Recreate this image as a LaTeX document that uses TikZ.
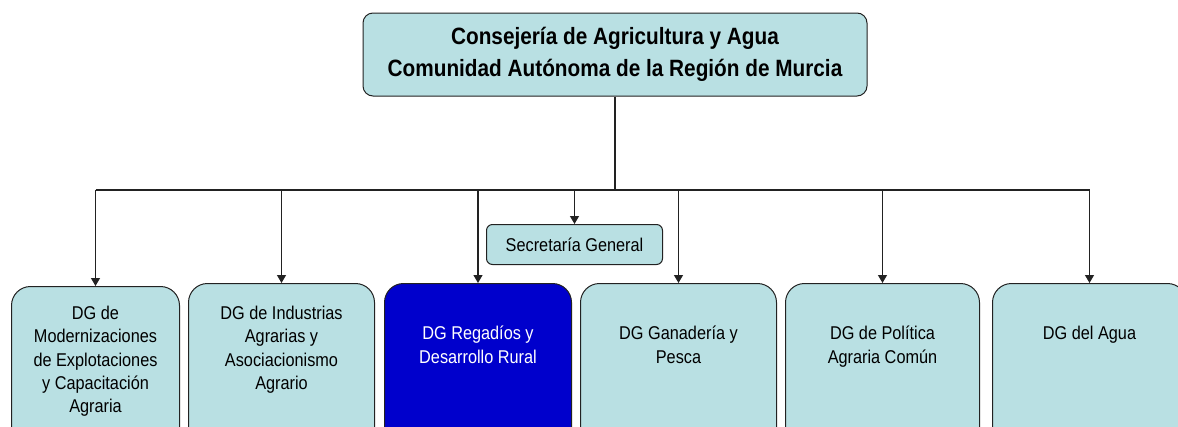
\documentclass[tikz,border=0pt]{standalone}
\usepackage{fontspec}
\setmainfont[FakeStretch=0.88]{Liberation Sans}
\usetikzlibrary{arrows.meta,positioning}
\definecolor{OrgaCyan}{RGB}{185,224,227}
\definecolor{OrgaBlue}{RGB}{0,0,204}
\definecolor{OrgaLine}{HTML}{222222}

\tikzset{
  unitbox/.style={draw=OrgaLine,fill=OrgaCyan,line width=1pt,inner sep=0pt,
    rounded corners=19pt,minimum height=170pt,anchor=north west},
  unittext/.style={anchor=north,align=center,inner sep=0pt,
    font=\fontsize{18.5}{23.3}\selectfont},
  link/.style={-{Triangle[length=8pt,width=9pt]},line width=1.2pt,OrgaLine}
}

\begin{document}
\begin{tikzpicture}[x=1pt,y=-1pt]
  \clip (0,0) rectangle (1178,426);
  % top box
  \node[draw=OrgaLine,fill=OrgaCyan,line width=1pt,rounded corners=10pt,
    minimum width=504pt,minimum height=83pt,align=center,
    font=\fontsize{23.6}{31.5}\selectfont\bfseries] (consejeria) at (615,54.5)
    {Consejería de Agricultura y Agua\\Comunidad Autónoma de la Región de Murcia};
  \coordinate (bar) at (615,190);

  % direcciones generales
  \node[unitbox,minimum width=168pt] (modern) at (11,286) {};
  \node[unitbox,minimum width=186pt] (industria) at (188,283) {};
  \node[unitbox,minimum width=187pt,fill=OrgaBlue] (regadio) at (384,283) {};
  \node[unitbox,minimum width=196pt] (ganaderia) at (580,283) {};
  \node[unitbox,minimum width=194pt] (pac) at (785,283) {};
  \node[unitbox,minimum width=194pt] (agua) at (992,283) {};
  \node[unitbox,minimum width=176pt,minimum height=40pt,rounded corners=6pt] (secretaria) at (486,224) {};

  \node[unittext,below=20pt of modern.north] (modern-t)
    {DG de\\Modernizaciones\\de Explotaciones\\y Capacitación\\Agraria};
  \node[unittext,below=23pt of industria.north] (industria-t)
    {DG de Industrias\\Agrarias y\\Asociacionismo\\Agrario};
  \node[unittext,below=43pt of regadio.north,text=white] (regadio-t)
    {DG Regadíos y\\Desarrollo Rural};
  \node[unittext,below=43pt of ganaderia.north] (ganaderia-t)
    {DG Ganadería y\\Pesca};
  \node[unittext,below=43pt of pac.north] (pac-t)
    {DG de Política\\Agraria Común};
  \node[unittext,below=43pt of agua.north] (agua-t) {DG del Agua};
  \node[anchor=center,inner sep=0pt,font=\fontsize{18.5}{20}\selectfont] (secretaria-t)
    at (secretaria.center) {Secretaría General};

  % connectors
  \draw[line width=2pt,OrgaLine] (consejeria.south) -- (bar);
  \draw[line width=1.2pt,OrgaLine] (modern.north |- bar) -- (agua.north |- bar);
  \foreach \unit in {modern,industria,regadio,secretaria,ganaderia,pac,agua}
    \draw[link] (\unit.north |- bar) -- (\unit.north);
\end{tikzpicture}
\end{document}
